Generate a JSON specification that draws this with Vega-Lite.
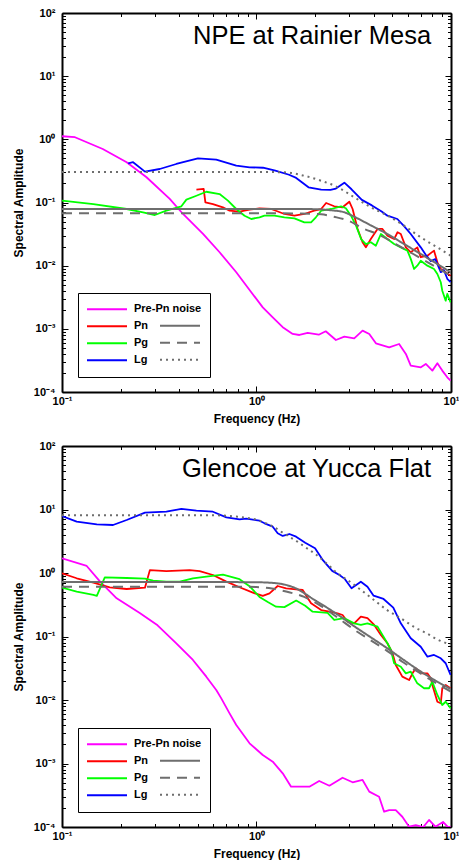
{
  "$schema": "https://vega.github.io/schema/vega-lite/v6.json",
  "background": "white",
  "padding": {"left": 12, "top": 7, "right": 0, "bottom": 0},
  "spacing": 15,
  "config": {
    "font": "Liberation Sans",
    "view": {"stroke": null},
    "axis": {
      "grid": false, "domainColor": "#000", "domainWidth": 2, "tickColor": "#000", "tickWidth": 1,
      "labelFont": "Liberation Sans", "labelFontSize": 11, "labelFontWeight": "bold", "labelColor": "#000",
      "titleFont": "Liberation Sans", "titleFontSize": 12, "titleFontWeight": "bold", "titleColor": "#000",
      "labelFlush": false, "labelOverlap": false
    },
    "legend": {
      "labelFont": "Liberation Sans", "labelFontSize": 11, "labelFontWeight": "bold", "labelColor": "#000",
      "symbolType": "stroke", "symbolSize": 1600, "symbolStrokeWidth": 2,
      "clipHeight": 16.5, "rowPadding": 0, "labelOffset": 6
    }
  },
  "datasets": {
    "npeObs": [
      {"s": "Pre-Pn noise", "f": 0.1, "a": 1.12}, {"s": "Pre-Pn noise", "f": 0.1166, "a": 1.08}, {"s": "Pre-Pn noise", "f": 0.162, "a": 0.703},
      {"s": "Pre-Pn noise", "f": 0.215, "a": 0.433}, {"s": "Pre-Pn noise", "f": 0.272, "a": 0.251}, {"s": "Pre-Pn noise", "f": 0.358, "a": 0.114},
      {"s": "Pre-Pn noise", "f": 0.419, "a": 0.0658}, {"s": "Pre-Pn noise", "f": 0.531, "a": 0.0318}, {"s": "Pre-Pn noise", "f": 0.646, "a": 0.0163},
      {"s": "Pre-Pn noise", "f": 0.787, "a": 0.00786}, {"s": "Pre-Pn noise", "f": 0.94, "a": 0.00379}, {"s": "Pre-Pn noise", "f": 1.077, "a": 0.00219},
      {"s": "Pre-Pn noise", "f": 1.212, "a": 0.00152}, {"s": "Pre-Pn noise", "f": 1.364, "a": 0.00106}, {"s": "Pre-Pn noise", "f": 1.535, "a": 0.000829},
      {"s": "Pre-Pn noise", "f": 1.662, "a": 0.000799}, {"s": "Pre-Pn noise", "f": 1.833, "a": 0.00086}, {"s": "Pre-Pn noise", "f": 2.09, "a": 0.000807},
      {"s": "Pre-Pn noise", "f": 2.27, "a": 0.000914}, {"s": "Pre-Pn noise", "f": 2.56, "a": 0.000666}, {"s": "Pre-Pn noise", "f": 2.83, "a": 0.000751},
      {"s": "Pre-Pn noise", "f": 3.18, "a": 0.000708}, {"s": "Pre-Pn noise", "f": 3.51, "a": 0.000935}, {"s": "Pre-Pn noise", "f": 3.8, "a": 0.000829},
      {"s": "Pre-Pn noise", "f": 4.11, "a": 0.00059}, {"s": "Pre-Pn noise", "f": 4.81, "a": 0.00051}, {"s": "Pre-Pn noise", "f": 5.41, "a": 0.000575},
      {"s": "Pre-Pn noise", "f": 5.86, "a": 0.0004}, {"s": "Pre-Pn noise", "f": 6.21, "a": 0.000261}, {"s": "Pre-Pn noise", "f": 7.0, "a": 0.000246},
      {"s": "Pre-Pn noise", "f": 7.42, "a": 0.000278}, {"s": "Pre-Pn noise", "f": 8.02, "a": 0.000218}, {"s": "Pre-Pn noise", "f": 8.51, "a": 0.000285},
      {"s": "Pre-Pn noise", "f": 9.02, "a": 0.000218}, {"s": "Pre-Pn noise", "f": 9.57, "a": 0.000171}, {"s": "Pre-Pn noise", "f": 9.95, "a": 0.000151},

      {"s": "Pn", "f": 0.491, "a": 0.16}, {"s": "Pn", "f": 0.535, "a": 0.164}, {"s": "Pn", "f": 0.546, "a": 0.1007}, {"s": "Pn", "f": 0.597, "a": 0.0946},
      {"s": "Pn", "f": 0.672, "a": 0.0839}, {"s": "Pn", "f": 0.727, "a": 0.0742}, {"s": "Pn", "f": 0.818, "a": 0.0716}, {"s": "Pn", "f": 0.921, "a": 0.0769},
      {"s": "Pn", "f": 1.036, "a": 0.081}, {"s": "Pn", "f": 1.19, "a": 0.0789}, {"s": "Pn", "f": 1.392, "a": 0.0658}, {"s": "Pn", "f": 1.567, "a": 0.0618},
      {"s": "Pn", "f": 1.762, "a": 0.0658}, {"s": "Pn", "f": 1.98, "a": 0.0742}, {"s": "Pn", "f": 2.15, "a": 0.0789}, {"s": "Pn", "f": 2.28, "a": 0.0982},
      {"s": "Pn", "f": 2.51, "a": 0.0871}, {"s": "Pn", "f": 2.77, "a": 0.084}, {"s": "Pn", "f": 3.0, "a": 0.103}, {"s": "Pn", "f": 3.12, "a": 0.0789},
      {"s": "Pn", "f": 3.31, "a": 0.0381}, {"s": "Pn", "f": 3.51, "a": 0.0235}, {"s": "Pn", "f": 3.65, "a": 0.0195}, {"s": "Pn", "f": 3.87, "a": 0.0264},
      {"s": "Pn", "f": 4.19, "a": 0.0381}, {"s": "Pn", "f": 4.44, "a": 0.0381}, {"s": "Pn", "f": 4.71, "a": 0.0299}, {"s": "Pn", "f": 5.1, "a": 0.0264},
      {"s": "Pn", "f": 5.31, "a": 0.0338}, {"s": "Pn", "f": 5.52, "a": 0.0317}, {"s": "Pn", "f": 5.86, "a": 0.0195}, {"s": "Pn", "f": 6.21, "a": 0.0163},
      {"s": "Pn", "f": 6.71, "a": 0.0195}, {"s": "Pn", "f": 6.99, "a": 0.0136}, {"s": "Pn", "f": 7.56, "a": 0.0144}, {"s": "Pn", "f": 8.18, "a": 0.0173},
      {"s": "Pn", "f": 8.51, "a": 0.0113}, {"s": "Pn", "f": 8.86, "a": 0.00886}, {"s": "Pn", "f": 9.39, "a": 0.00785}, {"s": "Pn", "f": 9.95, "a": 0.00694},

      {"s": "Pg", "f": 0.1, "a": 0.107}, {"s": "Pg", "f": 0.145, "a": 0.0946}, {"s": "Pg", "f": 0.215, "a": 0.0789}, {"s": "Pg", "f": 0.261, "a": 0.0699},
      {"s": "Pg", "f": 0.3, "a": 0.0634}, {"s": "Pg", "f": 0.344, "a": 0.0742}, {"s": "Pg", "f": 0.411, "a": 0.0871}, {"s": "Pg", "f": 0.436, "a": 0.111},
      {"s": "Pg", "f": 0.491, "a": 0.128}, {"s": "Pg", "f": 0.552, "a": 0.148}, {"s": "Pg", "f": 0.646, "a": 0.136}, {"s": "Pg", "f": 0.713, "a": 0.107},
      {"s": "Pg", "f": 0.787, "a": 0.0789}, {"s": "Pg", "f": 0.868, "a": 0.0618}, {"s": "Pg", "f": 0.94, "a": 0.0548}, {"s": "Pg", "f": 1.036, "a": 0.0583},
      {"s": "Pg", "f": 1.099, "a": 0.0618}, {"s": "Pg", "f": 1.236, "a": 0.0618}, {"s": "Pg", "f": 1.392, "a": 0.0583}, {"s": "Pg", "f": 1.567, "a": 0.0562},
      {"s": "Pg", "f": 1.762, "a": 0.0486}, {"s": "Pg", "f": 1.908, "a": 0.0486}, {"s": "Pg", "f": 2.02, "a": 0.0583}, {"s": "Pg", "f": 2.15, "a": 0.0742},
      {"s": "Pg", "f": 2.42, "a": 0.0789}, {"s": "Pg", "f": 2.72, "a": 0.0871}, {"s": "Pg", "f": 2.88, "a": 0.081}, {"s": "Pg", "f": 3.06, "a": 0.0618},
      {"s": "Pg", "f": 3.25, "a": 0.043}, {"s": "Pg", "f": 3.45, "a": 0.0264}, {"s": "Pg", "f": 3.65, "a": 0.022}, {"s": "Pg", "f": 3.87, "a": 0.0235},
      {"s": "Pg", "f": 4.11, "a": 0.0207}, {"s": "Pg", "f": 4.36, "a": 0.0317}, {"s": "Pg", "f": 4.71, "a": 0.0264}, {"s": "Pg", "f": 5.1, "a": 0.022},
      {"s": "Pg", "f": 5.52, "a": 0.0195}, {"s": "Pg", "f": 5.97, "a": 0.0173}, {"s": "Pg", "f": 6.21, "a": 0.0128}, {"s": "Pg", "f": 6.46, "a": 0.00886},
      {"s": "Pg", "f": 6.71, "a": 0.01}, {"s": "Pg", "f": 6.99, "a": 0.012}, {"s": "Pg", "f": 7.56, "a": 0.01}, {"s": "Pg", "f": 8.18, "a": 0.00886},
      {"s": "Pg", "f": 8.51, "a": 0.00738}, {"s": "Pg", "f": 8.86, "a": 0.00546}, {"s": "Pg", "f": 9.02, "a": 0.00402}, {"s": "Pg", "f": 9.39, "a": 0.00279},
      {"s": "Pg", "f": 9.57, "a": 0.00357}, {"s": "Pg", "f": 9.95, "a": 0.00263},

      {"s": "Lg", "f": 0.219, "a": 0.418}, {"s": "Lg", "f": 0.232, "a": 0.434}, {"s": "Lg", "f": 0.267, "a": 0.308}, {"s": "Lg", "f": 0.318, "a": 0.339},
      {"s": "Lg", "f": 0.387, "a": 0.407}, {"s": "Lg", "f": 0.5, "a": 0.501}, {"s": "Lg", "f": 0.621, "a": 0.476}, {"s": "Lg", "f": 0.787, "a": 0.383},
      {"s": "Lg", "f": 0.921, "a": 0.361}, {"s": "Lg", "f": 1.08, "a": 0.355}, {"s": "Lg", "f": 1.25, "a": 0.32}, {"s": "Lg", "f": 1.47, "a": 0.275},
      {"s": "Lg", "f": 1.6, "a": 0.245}, {"s": "Lg", "f": 1.85, "a": 0.174}, {"s": "Lg", "f": 2.15, "a": 0.16}, {"s": "Lg", "f": 2.4, "a": 0.158},
      {"s": "Lg", "f": 2.56, "a": 0.166}, {"s": "Lg", "f": 2.83, "a": 0.206}, {"s": "Lg", "f": 3.08, "a": 0.162}, {"s": "Lg", "f": 3.48, "a": 0.11},
      {"s": "Lg", "f": 3.92, "a": 0.09}, {"s": "Lg", "f": 4.4, "a": 0.072}, {"s": "Lg", "f": 4.71, "a": 0.0618}, {"s": "Lg", "f": 5.3, "a": 0.0548},
      {"s": "Lg", "f": 5.75, "a": 0.042}, {"s": "Lg", "f": 6.21, "a": 0.0317}, {"s": "Lg", "f": 6.99, "a": 0.0195}, {"s": "Lg", "f": 7.4, "a": 0.015},
      {"s": "Lg", "f": 7.87, "a": 0.0118}, {"s": "Lg", "f": 8.3, "a": 0.0127}, {"s": "Lg", "f": 8.86, "a": 0.0079}, {"s": "Lg", "f": 9.2, "a": 0.0085},
      {"s": "Lg", "f": 9.57, "a": 0.0062}, {"s": "Lg", "f": 9.95, "a": 0.0055}
    ],
    "npeModel": [
      {"s": "Pn", "f": 0.1, "a": 0.079}, {"s": "Pn", "f": 1.0, "a": 0.079}, {"s": "Pn", "f": 2.0, "a": 0.0785}, {"s": "Pn", "f": 2.4, "a": 0.0755},
      {"s": "Pn", "f": 2.83, "a": 0.07}, {"s": "Pn", "f": 3.18, "a": 0.0595}, {"s": "Pn", "f": 3.87, "a": 0.0435}, {"s": "Pn", "f": 4.71, "a": 0.0317},
      {"s": "Pn", "f": 5.74, "a": 0.022}, {"s": "Pn", "f": 6.99, "a": 0.0153}, {"s": "Pn", "f": 8.51, "a": 0.0106}, {"s": "Pn", "f": 10, "a": 0.0078},
      {"s": "Pg", "f": 0.1, "a": 0.0675}, {"s": "Pg", "f": 1.0, "a": 0.0675}, {"s": "Pg", "f": 1.6, "a": 0.067}, {"s": "Pg", "f": 2.15, "a": 0.065},
      {"s": "Pg", "f": 2.5, "a": 0.0595}, {"s": "Pg", "f": 3.0, "a": 0.051}, {"s": "Pg", "f": 3.5, "a": 0.0394}, {"s": "Pg", "f": 4.3, "a": 0.0306},
      {"s": "Pg", "f": 5.2, "a": 0.022}, {"s": "Pg", "f": 6.4, "a": 0.0153}, {"s": "Pg", "f": 8.0, "a": 0.0103}, {"s": "Pg", "f": 10, "a": 0.0069},
      {"s": "Lg", "f": 0.1, "a": 0.305}, {"s": "Lg", "f": 1.0, "a": 0.305}, {"s": "Lg", "f": 1.4, "a": 0.3}, {"s": "Lg", "f": 1.76, "a": 0.265},
      {"s": "Lg", "f": 2.15, "a": 0.221}, {"s": "Lg", "f": 2.62, "a": 0.174}, {"s": "Lg", "f": 3.18, "a": 0.121}, {"s": "Lg", "f": 3.87, "a": 0.084},
      {"s": "Lg", "f": 4.72, "a": 0.0618}, {"s": "Lg", "f": 5.74, "a": 0.043}, {"s": "Lg", "f": 6.99, "a": 0.0281}, {"s": "Lg", "f": 8.51, "a": 0.0195},
      {"s": "Lg", "f": 10, "a": 0.0143}
    ],
    "glObs": [
      {"s": "Pre-Pn noise", "f": 0.1, "a": 1.7}, {"s": "Pre-Pn noise", "f": 0.134, "a": 1.29}, {"s": "Pre-Pn noise", "f": 0.157, "a": 0.73},
      {"s": "Pre-Pn noise", "f": 0.191, "a": 0.4}, {"s": "Pre-Pn noise", "f": 0.251, "a": 0.235}, {"s": "Pre-Pn noise", "f": 0.31, "a": 0.15},
      {"s": "Pre-Pn noise", "f": 0.387, "a": 0.0782}, {"s": "Pre-Pn noise", "f": 0.471, "a": 0.0427}, {"s": "Pre-Pn noise", "f": 0.552, "a": 0.0233},
      {"s": "Pre-Pn noise", "f": 0.621, "a": 0.0144}, {"s": "Pre-Pn noise", "f": 0.659, "a": 0.0106}, {"s": "Pre-Pn noise", "f": 0.727, "a": 0.00616},
      {"s": "Pre-Pn noise", "f": 0.787, "a": 0.00403}, {"s": "Pre-Pn noise", "f": 0.921, "a": 0.00208}, {"s": "Pre-Pn noise", "f": 1.077, "a": 0.00136},
      {"s": "Pre-Pn noise", "f": 1.212, "a": 0.00107}, {"s": "Pre-Pn noise", "f": 1.364, "a": 0.000701}, {"s": "Pre-Pn noise", "f": 1.506, "a": 0.000431},
      {"s": "Pre-Pn noise", "f": 1.598, "a": 0.000431}, {"s": "Pre-Pn noise", "f": 1.87, "a": 0.000431}, {"s": "Pre-Pn noise", "f": 2.1, "a": 0.00053},
      {"s": "Pre-Pn noise", "f": 2.37, "a": 0.000447}, {"s": "Pre-Pn noise", "f": 2.77, "a": 0.000597}, {"s": "Pre-Pn noise", "f": 3.12, "a": 0.000506},
      {"s": "Pre-Pn noise", "f": 3.51, "a": 0.00055}, {"s": "Pre-Pn noise", "f": 3.8, "a": 0.00036}, {"s": "Pre-Pn noise", "f": 4.27, "a": 0.0003},
      {"s": "Pre-Pn noise", "f": 4.53, "a": 0.000174}, {"s": "Pre-Pn noise", "f": 4.81, "a": 0.000185}, {"s": "Pre-Pn noise", "f": 5.2, "a": 0.000185},
      {"s": "Pre-Pn noise", "f": 5.62, "a": 0.000145}, {"s": "Pre-Pn noise", "f": 6.09, "a": 0.000101}, {"s": "Pre-Pn noise", "f": 6.59, "a": 0.000107},
      {"s": "Pre-Pn noise", "f": 7.2, "a": 0.0001}, {"s": "Pre-Pn noise", "f": 7.71, "a": 0.000129}, {"s": "Pre-Pn noise", "f": 8.31, "a": 0.000101},
      {"s": "Pre-Pn noise", "f": 9.1, "a": 0.00012}, {"s": "Pre-Pn noise", "f": 9.6, "a": 0.000101}, {"s": "Pre-Pn noise", "f": 9.95, "a": 0.0001},

      {"s": "Pn", "f": 0.1, "a": 0.989}, {"s": "Pn", "f": 0.119, "a": 0.826}, {"s": "Pn", "f": 0.145, "a": 0.703}, {"s": "Pn", "f": 0.176, "a": 0.596},
      {"s": "Pn", "f": 0.215, "a": 0.56}, {"s": "Pn", "f": 0.267, "a": 0.587}, {"s": "Pn", "f": 0.283, "a": 1.11}, {"s": "Pn", "f": 0.344, "a": 1.07},
      {"s": "Pn", "f": 0.453, "a": 1.11}, {"s": "Pn", "f": 0.51, "a": 1.07}, {"s": "Pn", "f": 0.597, "a": 0.93}, {"s": "Pn", "f": 0.7, "a": 0.73},
      {"s": "Pn", "f": 0.818, "a": 0.596}, {"s": "Pn", "f": 0.958, "a": 0.49}, {"s": "Pn", "f": 1.077, "a": 0.435}, {"s": "Pn", "f": 1.167, "a": 0.479},
      {"s": "Pn", "f": 1.285, "a": 0.624}, {"s": "Pn", "f": 1.42, "a": 0.574}, {"s": "Pn", "f": 1.598, "a": 0.554}, {"s": "Pn", "f": 1.728, "a": 0.54},
      {"s": "Pn", "f": 1.908, "a": 0.333}, {"s": "Pn", "f": 2.15, "a": 0.261}, {"s": "Pn", "f": 2.37, "a": 0.246}, {"s": "Pn", "f": 2.61, "a": 0.232},
      {"s": "Pn", "f": 2.77, "a": 0.218}, {"s": "Pn", "f": 2.94, "a": 0.171}, {"s": "Pn", "f": 3.18, "a": 0.161}, {"s": "Pn", "f": 3.44, "a": 0.205},
      {"s": "Pn", "f": 3.72, "a": 0.194}, {"s": "Pn", "f": 4.03, "a": 0.152}, {"s": "Pn", "f": 4.36, "a": 0.106}, {"s": "Pn", "f": 4.71, "a": 0.0782},
      {"s": "Pn", "f": 5.0, "a": 0.055}, {"s": "Pn", "f": 5.2, "a": 0.0356}, {"s": "Pn", "f": 5.62, "a": 0.0233}, {"s": "Pn", "f": 6.09, "a": 0.0206},
      {"s": "Pn", "f": 6.34, "a": 0.0263}, {"s": "Pn", "f": 6.59, "a": 0.0315}, {"s": "Pn", "f": 7.13, "a": 0.0263}, {"s": "Pn", "f": 7.56, "a": 0.0263},
      {"s": "Pn", "f": 7.87, "a": 0.022}, {"s": "Pn", "f": 8.02, "a": 0.0172}, {"s": "Pn", "f": 8.51, "a": 0.00939}, {"s": "Pn", "f": 8.86, "a": 0.00887},
      {"s": "Pn", "f": 9.02, "a": 0.0153}, {"s": "Pn", "f": 9.39, "a": 0.0172}, {"s": "Pn", "f": 9.95, "a": 0.0153},

      {"s": "Pg", "f": 0.1, "a": 0.587}, {"s": "Pg", "f": 0.119, "a": 0.508}, {"s": "Pg", "f": 0.145, "a": 0.451}, {"s": "Pg", "f": 0.151, "a": 0.435},
      {"s": "Pg", "f": 0.166, "a": 0.855}, {"s": "Pg", "f": 0.215, "a": 0.834}, {"s": "Pg", "f": 0.267, "a": 0.813}, {"s": "Pg", "f": 0.294, "a": 0.756},
      {"s": "Pg", "f": 0.344, "a": 0.73}, {"s": "Pg", "f": 0.403, "a": 0.73}, {"s": "Pg", "f": 0.471, "a": 0.826}, {"s": "Pg", "f": 0.552, "a": 0.875},
      {"s": "Pg", "f": 0.672, "a": 0.94}, {"s": "Pg", "f": 0.818, "a": 0.8}, {"s": "Pg", "f": 0.921, "a": 0.62}, {"s": "Pg", "f": 1.036, "a": 0.42},
      {"s": "Pg", "f": 1.143, "a": 0.35}, {"s": "Pg", "f": 1.26, "a": 0.295}, {"s": "Pg", "f": 1.392, "a": 0.29}, {"s": "Pg", "f": 1.6, "a": 0.368},
      {"s": "Pg", "f": 1.78, "a": 0.305}, {"s": "Pg", "f": 1.944, "a": 0.246}, {"s": "Pg", "f": 2.32, "a": 0.236}, {"s": "Pg", "f": 2.51, "a": 0.182},
      {"s": "Pg", "f": 2.83, "a": 0.194}, {"s": "Pg", "f": 3.18, "a": 0.161}, {"s": "Pg", "f": 3.44, "a": 0.152}, {"s": "Pg", "f": 3.72, "a": 0.161},
      {"s": "Pg", "f": 4.19, "a": 0.143}, {"s": "Pg", "f": 4.71, "a": 0.0782}, {"s": "Pg", "f": 4.91, "a": 0.0613}, {"s": "Pg", "f": 5.1, "a": 0.0379},
      {"s": "Pg", "f": 5.52, "a": 0.0334}, {"s": "Pg", "f": 5.86, "a": 0.0263}, {"s": "Pg", "f": 6.21, "a": 0.0279}, {"s": "Pg", "f": 6.71, "a": 0.0183},
      {"s": "Pg", "f": 7.27, "a": 0.0153}, {"s": "Pg", "f": 7.71, "a": 0.0153}, {"s": "Pg", "f": 8.02, "a": 0.0194}, {"s": "Pg", "f": 8.51, "a": 0.012},
      {"s": "Pg", "f": 9.02, "a": 0.00834}, {"s": "Pg", "f": 9.39, "a": 0.00939}, {"s": "Pg", "f": 9.95, "a": 0.0074},

      {"s": "Lg", "f": 0.1, "a": 7.9}, {"s": "Lg", "f": 0.119, "a": 6.43}, {"s": "Lg", "f": 0.151, "a": 5.85}, {"s": "Lg", "f": 0.183, "a": 5.7},
      {"s": "Lg", "f": 0.215, "a": 6.83}, {"s": "Lg", "f": 0.267, "a": 8.91}, {"s": "Lg", "f": 0.344, "a": 9.23}, {"s": "Lg", "f": 0.411, "a": 10.2},
      {"s": "Lg", "f": 0.491, "a": 9.57}, {"s": "Lg", "f": 0.597, "a": 9.23}, {"s": "Lg", "f": 0.7, "a": 7.53}, {"s": "Lg", "f": 0.818, "a": 7.01},
      {"s": "Lg", "f": 0.886, "a": 7.17}, {"s": "Lg", "f": 1.036, "a": 6.66}, {"s": "Lg", "f": 1.1, "a": 6.06}, {"s": "Lg", "f": 1.212, "a": 5.36},
      {"s": "Lg", "f": 1.285, "a": 4.22}, {"s": "Lg", "f": 1.364, "a": 3.83}, {"s": "Lg", "f": 1.476, "a": 4.11}, {"s": "Lg", "f": 1.598, "a": 3.73},
      {"s": "Lg", "f": 1.78, "a": 3.0}, {"s": "Lg", "f": 2.0, "a": 2.45}, {"s": "Lg", "f": 2.2, "a": 1.58}, {"s": "Lg", "f": 2.45, "a": 1.08},
      {"s": "Lg", "f": 2.67, "a": 0.93}, {"s": "Lg", "f": 2.85, "a": 0.8}, {"s": "Lg", "f": 3.08, "a": 0.574}, {"s": "Lg", "f": 3.44, "a": 0.729},
      {"s": "Lg", "f": 3.72, "a": 0.608}, {"s": "Lg", "f": 4.0, "a": 0.44}, {"s": "Lg", "f": 4.5, "a": 0.39}, {"s": "Lg", "f": 5.05, "a": 0.285},
      {"s": "Lg", "f": 5.52, "a": 0.161}, {"s": "Lg", "f": 6.21, "a": 0.0937}, {"s": "Lg", "f": 6.99, "a": 0.0691}, {"s": "Lg", "f": 7.57, "a": 0.0481},
      {"s": "Lg", "f": 8.18, "a": 0.0512}, {"s": "Lg", "f": 8.86, "a": 0.0454}, {"s": "Lg", "f": 9.39, "a": 0.0379}, {"s": "Lg", "f": 9.95, "a": 0.0248}
    ],
    "glModel": [
      {"s": "Pn", "f": 0.1, "a": 0.72}, {"s": "Pn", "f": 0.6, "a": 0.72}, {"s": "Pn", "f": 1.0, "a": 0.715}, {"s": "Pn", "f": 1.2, "a": 0.7},
      {"s": "Pn", "f": 1.4, "a": 0.655}, {"s": "Pn", "f": 1.6, "a": 0.57}, {"s": "Pn", "f": 1.8, "a": 0.46}, {"s": "Pn", "f": 1.95, "a": 0.39},
      {"s": "Pn", "f": 2.15, "a": 0.325}, {"s": "Pn", "f": 2.62, "a": 0.22}, {"s": "Pn", "f": 3.18, "a": 0.145}, {"s": "Pn", "f": 3.87, "a": 0.097},
      {"s": "Pn", "f": 4.71, "a": 0.065}, {"s": "Pn", "f": 5.7, "a": 0.043}, {"s": "Pn", "f": 7.0, "a": 0.028}, {"s": "Pn", "f": 8.5, "a": 0.0195},
      {"s": "Pn", "f": 10, "a": 0.0148},
      {"s": "Pg", "f": 0.1, "a": 0.61}, {"s": "Pg", "f": 0.8, "a": 0.61}, {"s": "Pg", "f": 1.0, "a": 0.6}, {"s": "Pg", "f": 1.2, "a": 0.57},
      {"s": "Pg", "f": 1.42, "a": 0.51}, {"s": "Pg", "f": 1.76, "a": 0.42}, {"s": "Pg", "f": 2.15, "a": 0.3}, {"s": "Pg", "f": 2.62, "a": 0.197},
      {"s": "Pg", "f": 3.18, "a": 0.128}, {"s": "Pg", "f": 3.87, "a": 0.087}, {"s": "Pg", "f": 4.71, "a": 0.059}, {"s": "Pg", "f": 5.7, "a": 0.039},
      {"s": "Pg", "f": 7.0, "a": 0.026}, {"s": "Pg", "f": 8.5, "a": 0.018}, {"s": "Pg", "f": 10, "a": 0.0135},
      {"s": "Lg", "f": 0.1, "a": 8.1}, {"s": "Lg", "f": 0.6, "a": 8.1}, {"s": "Lg", "f": 0.8, "a": 7.7}, {"s": "Lg", "f": 1.0, "a": 6.9},
      {"s": "Lg", "f": 1.2, "a": 5.5}, {"s": "Lg", "f": 1.4, "a": 4.1}, {"s": "Lg", "f": 1.6, "a": 3.2}, {"s": "Lg", "f": 1.8, "a": 2.5},
      {"s": "Lg", "f": 2.0, "a": 2.0}, {"s": "Lg", "f": 2.3, "a": 1.4}, {"s": "Lg", "f": 2.6, "a": 1.0}, {"s": "Lg", "f": 3.0, "a": 0.74},
      {"s": "Lg", "f": 3.5, "a": 0.52}, {"s": "Lg", "f": 4.0, "a": 0.38}, {"s": "Lg", "f": 4.7, "a": 0.26}, {"s": "Lg", "f": 5.5, "a": 0.195},
      {"s": "Lg", "f": 6.5, "a": 0.14}, {"s": "Lg", "f": 7.5, "a": 0.112}, {"s": "Lg", "f": 8.5, "a": 0.09}, {"s": "Lg", "f": 10, "a": 0.074}
    ]
  },
  "vconcat": [
    {
      "width": 389,
      "height": 379,
      "layer": [
        {
          "data": {"name": "npeObs"},
          "mark": {"type": "line", "strokeWidth": 1.8, "clip": true, "strokeJoin": "round"},
          "encoding": {
            "x": {"field": "f", "type": "quantitative", "scale": {"type": "log", "domain": [0.1, 10], "nice": false},
              "axis": {"orient": "bottom", "title": "Frequency (Hz)", "values": [0.1,0.2,0.3,0.4,0.5,0.6,0.7,0.8,0.9,1,2,3,4,5,6,7,8,9,10],
                "labelExpr": "abs(log(datum.value)/LN10 - round(log(datum.value)/LN10)) < 0.001 ? ['10⁻⁴','10⁻³','10⁻²','10⁻¹','10⁰','10¹','10²'][round(log(datum.value)/LN10) + 4] : ''",
                "tickSize": {"condition": {"test": "abs(log(datum.value)/LN10 - round(log(datum.value)/LN10)) < 0.001", "value": -6}, "value": -3.5},
                "labelPadding": 9, "titlePadding": 5}},
            "y": {"field": "a", "type": "quantitative", "scale": {"type": "log", "domain": [0.0001, 100], "nice": false},
              "axis": {"orient": "left", "title": "Spectral Amplitude",
                "values": [0.0001,0.0002,0.0003,0.0004,0.0005,0.0006,0.0007,0.0008,0.0009,0.001,0.002,0.003,0.004,0.005,0.006,0.007,0.008,0.009,0.01,0.02,0.03,0.04,0.05,0.06,0.07,0.08,0.09,0.1,0.2,0.3,0.4,0.5,0.6,0.7,0.8,0.9,1,2,3,4,5,6,7,8,9,10,20,30,40,50,60,70,80,90,100],
                "labelExpr": "abs(log(datum.value)/LN10 - round(log(datum.value)/LN10)) < 0.001 ? ['10⁻⁴','10⁻³','10⁻²','10⁻¹','10⁰','10¹','10²'][round(log(datum.value)/LN10) + 4] : ''",
                "tickSize": {"condition": {"test": "abs(log(datum.value)/LN10 - round(log(datum.value)/LN10)) < 0.001", "value": -6}, "value": -3.5},
                "labelPadding": 13, "titlePadding": 8}},
            "color": {"field": "s", "type": "nominal",
              "scale": {"domain": ["Pre-Pn noise", "Pn", "Pg", "Lg"], "range": ["#ff00ff", "#ff0000", "#00ff00", "#0000ff"]},
              "legend": {"title": null, "orient": "none", "legendX": 16, "legendY": 280, "padding": 8, "rowPadding": 0, "clipHeight": 16.5, "strokeColor": "#000", "fillColor": "#fff"}}
          }
        },
        {
          "data": {"name": "npeModel"},
          "mark": {"type": "line", "color": "#6e6e6e", "strokeWidth": 2, "clip": true, "interpolate": "monotone"},
          "encoding": {
            "x": {"field": "f", "type": "quantitative", "scale": {"type": "log", "domain": [0.1, 10], "nice": false},
              "axis": {"orient": "top", "title": null, "labels": false, "values": [0.1,0.2,0.3,0.4,0.5,0.6,0.7,0.8,0.9,1,2,3,4,5,6,7,8,9,10],
                "tickSize": {"condition": {"test": "abs(log(datum.value)/LN10 - round(log(datum.value)/LN10)) < 0.001", "value": -6}, "value": -3.5}}},
            "y": {"field": "a", "type": "quantitative", "scale": {"type": "log", "domain": [0.0001, 100], "nice": false},
              "axis": {"orient": "right", "title": null, "labels": false,
                "values": [0.0001,0.0002,0.0003,0.0004,0.0005,0.0006,0.0007,0.0008,0.0009,0.001,0.002,0.003,0.004,0.005,0.006,0.007,0.008,0.009,0.01,0.02,0.03,0.04,0.05,0.06,0.07,0.08,0.09,0.1,0.2,0.3,0.4,0.5,0.6,0.7,0.8,0.9,1,2,3,4,5,6,7,8,9,10,20,30,40,50,60,70,80,90,100],
                "tickSize": {"condition": {"test": "abs(log(datum.value)/LN10 - round(log(datum.value)/LN10)) < 0.001", "value": -6}, "value": -3.5}}},
            "strokeDash": {"field": "s", "type": "nominal",
              "scale": {"domain": ["Pn", "Pg", "Lg"], "range": [[1, 0], [10, 7], [2, 4]]},
              "legend": {"title": null, "orient": "none", "legendX": 97, "legendY": 304.5, "padding": 0, "rowPadding": 0, "clipHeight": 16.5, "labelExpr": "''", "symbolStrokeColor": "#6e6e6e"}}
          }
        },
        {
          "data": {"values": [{"t": "NPE at Rainier Mesa"}]},
          "mark": {"type": "text", "align": "right", "baseline": "alphabetic", "fontSize": 25.5, "font": "Liberation Sans", "color": "#000"},
          "encoding": {
            "x": {"datum": 7.9, "type": "quantitative", "scale": {"type": "log", "domain": [0.1, 10], "nice": false}, "axis": null},
            "y": {"datum": 32, "type": "quantitative", "scale": {"type": "log", "domain": [0.0001, 100], "nice": false}, "axis": null},
            "text": {"field": "t"}
          }
        }
      ],
      "resolve": {"scale": {"x": "independent", "y": "independent"}, "axis": {"x": "independent", "y": "independent"}}
    },
    {
      "width": 389,
      "height": 381,
      "layer": [
        {
          "data": {"name": "glObs"},
          "mark": {"type": "line", "strokeWidth": 1.8, "clip": true, "strokeJoin": "round"},
          "encoding": {
            "x": {"field": "f", "type": "quantitative", "scale": {"type": "log", "domain": [0.1, 10], "nice": false},
              "axis": {"orient": "bottom", "title": "Frequency (Hz)", "values": [0.1,0.2,0.3,0.4,0.5,0.6,0.7,0.8,0.9,1,2,3,4,5,6,7,8,9,10],
                "labelExpr": "abs(log(datum.value)/LN10 - round(log(datum.value)/LN10)) < 0.001 ? ['10⁻⁴','10⁻³','10⁻²','10⁻¹','10⁰','10¹','10²'][round(log(datum.value)/LN10) + 4] : ''",
                "tickSize": {"condition": {"test": "abs(log(datum.value)/LN10 - round(log(datum.value)/LN10)) < 0.001", "value": -6}, "value": -3.5},
                "labelPadding": 9, "titlePadding": 5}},
            "y": {"field": "a", "type": "quantitative", "scale": {"type": "log", "domain": [0.0001, 100], "nice": false},
              "axis": {"orient": "left", "title": "Spectral Amplitude",
                "values": [0.0001,0.0002,0.0003,0.0004,0.0005,0.0006,0.0007,0.0008,0.0009,0.001,0.002,0.003,0.004,0.005,0.006,0.007,0.008,0.009,0.01,0.02,0.03,0.04,0.05,0.06,0.07,0.08,0.09,0.1,0.2,0.3,0.4,0.5,0.6,0.7,0.8,0.9,1,2,3,4,5,6,7,8,9,10,20,30,40,50,60,70,80,90,100],
                "labelExpr": "abs(log(datum.value)/LN10 - round(log(datum.value)/LN10)) < 0.001 ? ['10⁻⁴','10⁻³','10⁻²','10⁻¹','10⁰','10¹','10²'][round(log(datum.value)/LN10) + 4] : ''",
                "tickSize": {"condition": {"test": "abs(log(datum.value)/LN10 - round(log(datum.value)/LN10)) < 0.001", "value": -6}, "value": -3.5},
                "labelPadding": 13, "titlePadding": 8}},
            "color": {"field": "s", "type": "nominal",
              "scale": {"domain": ["Pre-Pn noise", "Pn", "Pg", "Lg"], "range": ["#ff00ff", "#ff0000", "#00ff00", "#0000ff"]},
              "legend": {"title": null, "orient": "none", "legendX": 16, "legendY": 282, "padding": 8, "rowPadding": 0, "clipHeight": 16.5, "strokeColor": "#000", "fillColor": "#fff"}}
          }
        },
        {
          "data": {"name": "glModel"},
          "mark": {"type": "line", "color": "#6e6e6e", "strokeWidth": 2, "clip": true, "interpolate": "monotone"},
          "encoding": {
            "x": {"field": "f", "type": "quantitative", "scale": {"type": "log", "domain": [0.1, 10], "nice": false},
              "axis": {"orient": "top", "title": null, "labels": false, "values": [0.1,0.2,0.3,0.4,0.5,0.6,0.7,0.8,0.9,1,2,3,4,5,6,7,8,9,10],
                "tickSize": {"condition": {"test": "abs(log(datum.value)/LN10 - round(log(datum.value)/LN10)) < 0.001", "value": -6}, "value": -3.5}}},
            "y": {"field": "a", "type": "quantitative", "scale": {"type": "log", "domain": [0.0001, 100], "nice": false},
              "axis": {"orient": "right", "title": null, "labels": false,
                "values": [0.0001,0.0002,0.0003,0.0004,0.0005,0.0006,0.0007,0.0008,0.0009,0.001,0.002,0.003,0.004,0.005,0.006,0.007,0.008,0.009,0.01,0.02,0.03,0.04,0.05,0.06,0.07,0.08,0.09,0.1,0.2,0.3,0.4,0.5,0.6,0.7,0.8,0.9,1,2,3,4,5,6,7,8,9,10,20,30,40,50,60,70,80,90,100],
                "tickSize": {"condition": {"test": "abs(log(datum.value)/LN10 - round(log(datum.value)/LN10)) < 0.001", "value": -6}, "value": -3.5}}},
            "strokeDash": {"field": "s", "type": "nominal",
              "scale": {"domain": ["Pn", "Pg", "Lg"], "range": [[1, 0], [10, 7], [2, 4]]},
              "legend": {"title": null, "orient": "none", "legendX": 97, "legendY": 306.5, "padding": 0, "rowPadding": 0, "clipHeight": 16.5, "labelExpr": "''", "symbolStrokeColor": "#6e6e6e"}}
          }
        },
        {
          "data": {"values": [{"t": "Glencoe at Yucca Flat"}]},
          "mark": {"type": "text", "align": "right", "baseline": "alphabetic", "fontSize": 25.5, "font": "Liberation Sans", "color": "#000"},
          "encoding": {
            "x": {"datum": 7.9, "type": "quantitative", "scale": {"type": "log", "domain": [0.1, 10], "nice": false}, "axis": null},
            "y": {"datum": 32, "type": "quantitative", "scale": {"type": "log", "domain": [0.0001, 100], "nice": false}, "axis": null},
            "text": {"field": "t"}
          }
        }
      ],
      "resolve": {"scale": {"x": "independent", "y": "independent"}, "axis": {"x": "independent", "y": "independent"}}
    }
  ],
  "resolve": {
    "scale": {"x": "independent", "y": "independent", "color": "independent", "strokeDash": "independent"},
    "axis": {"x": "independent", "y": "independent"},
    "legend": {"color": "independent", "strokeDash": "independent"}
  }
}
